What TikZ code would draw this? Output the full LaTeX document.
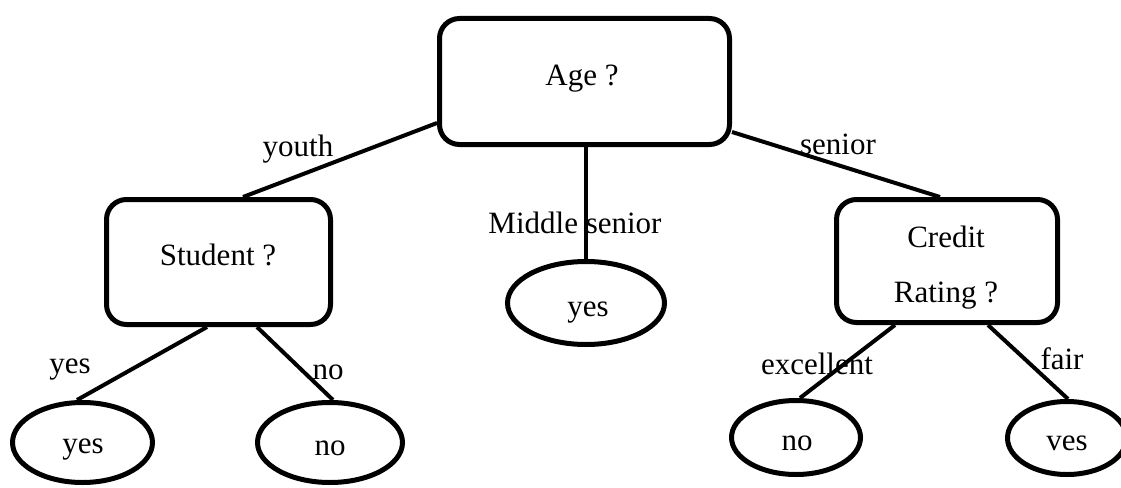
\documentclass[tikz,border=0pt]{standalone}
\usepackage{fontspec}
\setmainfont{Liberation Serif}
\usetikzlibrary{shapes.geometric}
\begin{document}
\begin{tikzpicture}[x=1pt,y=-1pt,
  box/.style={draw=black,line width=5pt,rounded corners=20pt,inner sep=0pt},
  leaf/.style={draw=black,ellipse,line width=5pt,inner sep=0pt},
  conn/.style={draw=black,line width=4pt},
  txt/.style={anchor=base,inner sep=0pt,font=\fontsize{31}{37}\selectfont}]
\useasboundingbox (0,0) rectangle (1121,487);
% decision nodes
\node[box,minimum width=290pt,minimum height=126pt] (age) at (584.5,81.5) {};
\node[box,minimum width=224pt,minimum height=125pt] (student) at (218.5,262) {};
\node[box,minimum width=221pt,minimum height=123pt] (credit) at (947,261) {};
% leaves
\node[leaf,minimum width=157pt,minimum height=83pt] (myes) at (586,303) {};
\node[leaf,minimum width=140pt,minimum height=80pt] (syes) at (82.5,442.5) {};
\node[leaf,minimum width=145pt,minimum height=80pt] (sno) at (330,442.5) {};
\node[leaf,minimum width=129pt,minimum height=74pt] (cno) at (796,437.5) {};
\node[leaf,minimum width=119pt,minimum height=73pt] (cyes) at (1067,438) {};
% connectors
\draw[conn] ([yshift=-41.5pt]age.west) -- ([xshift=24.5pt]student.north);
\draw[conn] (myes.north |- age.south) -- (myes.north);
\draw[conn] ([yshift=-50.5pt]age.east) -- ([xshift=-7pt]credit.north);
\draw[conn] ([xshift=-11.5pt]student.south) -- ([xshift=-5.5pt]syes.north);
\draw[conn] ([xshift=38.5pt]student.south) -- ([xshift=3pt]sno.north);
\draw[conn] ([xshift=-52pt]credit.south) -- ([xshift=4pt]cno.north);
\draw[conn] ([xshift=41pt]credit.south) -- ([xshift=1pt]cyes.north);
% texts in nodes
\node[txt] (tage) at (582,85) {Age ?};
\node[txt] (tstudent) at (218,265) {Student ?};
\node[txt] (tcredit1) at (946,247) {Credit};
\node[txt] (tcredit2) at (946,302) {Rating ?};
\node[txt] (tmyes) at (588,316) {yes};
\node[txt] (tsyes) at (83,453) {yes};
\node[txt] (tsno) at (330,455) {no};
\node[txt] (tcno) at (797,450) {no};
\node[txt] (tcyes) at (1067,450) {ves};
% edge labels
\node[txt] (lyouth) at (298,156) {youth};
\node[txt] (lsenior) at (838,154) {senior};
\node[txt] (lmiddle) at (575,233) {Middle senior};
\node[txt] (lyes) at (70,373) {yes};
\node[txt] (lno) at (328,379) {no};
\node[txt] (lexc) at (817,374) {excellent};
\node[txt] (lfair) at (1062,369) {fair};
\end{tikzpicture}
\end{document}
